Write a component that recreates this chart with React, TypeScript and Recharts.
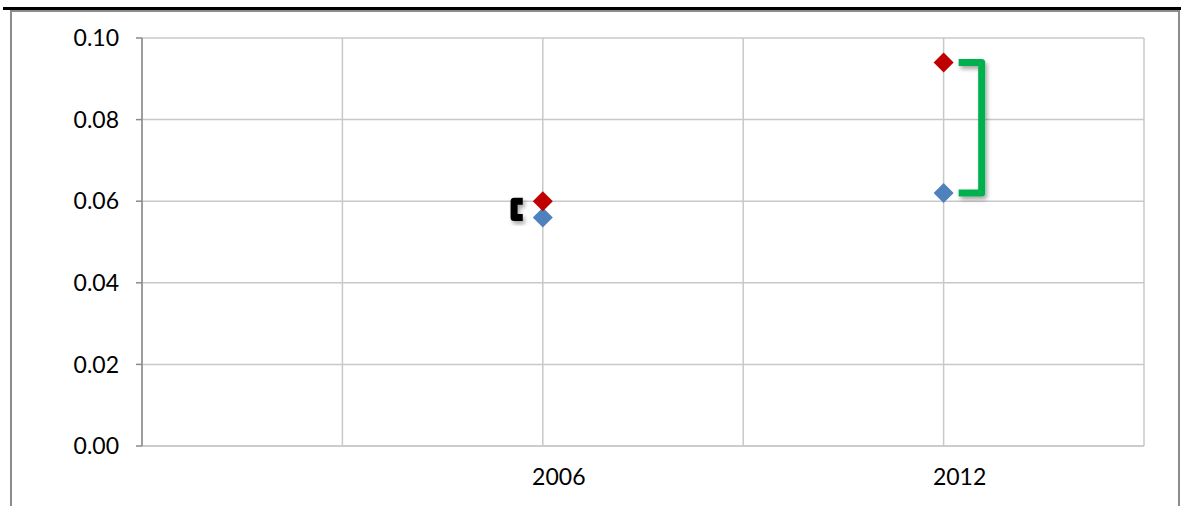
import React from "react";
import {
  ScatterChart,
  Scatter,
  XAxis,
  YAxis,
  CartesianGrid,
} from "recharts";

// x grid runs 2000..2015 every 3 years, only two years are labelled
const gridYears = [2000, 2003, 2006, 2009, 2012, 2015];
const labelYears = [2006, 2012];
const yTicks = [0, 0.02, 0.04, 0.06, 0.08, 0.1];

// two series
const redValues = [0.06, 0.094];
const blueValues = [0.056, 0.062];

const redData = labelYears.map((x, i) => ({ x, y: redValues[i] }));
const blueData = labelYears.map((x, i) => ({ x, y: blueValues[i] }));

// brackets span the gap between the two series
const blackBracket = [
  { x: labelYears[0] - 0.3, y: redValues[0] },
  { x: labelYears[0] - 0.43, y: redValues[0] },
  { x: labelYears[0] - 0.43, y: blueValues[0] },
  { x: labelYears[0] - 0.3, y: blueValues[0] },
];
const greenBracket = [
  { x: labelYears[1] + 0.225, y: redValues[1] },
  { x: labelYears[1] + 0.57, y: redValues[1] },
  { x: labelYears[1] + 0.57, y: blueValues[1] },
  { x: labelYears[1] + 0.225, y: blueValues[1] },
];

const FONT = "Lato, 'Open Sans', sans-serif";

const Diamond = (color: string) => (props: any) => {
  const { cx, cy } = props;
  const r = 10;
  return (
    <polygon
      points={`${cx},${cy - r} ${cx + r},${cy} ${cx},${cy + r} ${cx - r},${cy}`}
      fill={color}
    />
  );
};

const NoShape = () => null;

const XTick = (props: any) => {
  const { x, y, payload } = props;
  if (!labelYears.includes(payload.value)) return null;
  return (
    <text
      x={x + 16}
      y={y + 22}
      textAnchor="middle"
      dominantBaseline="central"
      fill="#000"
      fontSize={23}
      fontFamily={FONT}
    >
      {payload.value}
    </text>
  );
};

export default function App() {
  return (
    <div
      style={{
        position: "absolute",
        left: 0,
        top: 0,
        width: 1181,
        height: 506,
        background: "#fff",
        overflow: "hidden",
      }}
    >
      <div
        style={{
          position: "absolute",
          left: 3,
          top: 7,
          width: 1178,
          height: 3,
          background: "#000",
        }}
      />
      <div
        style={{
          position: "absolute",
          left: 10,
          top: 10,
          width: 1166,
          height: 510,
          border: "2px solid #8c8c8c",
          borderBottom: "none",
        }}
      />
      <div style={{ position: "absolute", left: 0, top: 0 }}>
        <ScatterChart
          width={1181}
          height={506}
          margin={{ top: 38, right: 37, bottom: 30, left: 0 }}
        >
          <defs>
            <filter id="shadow" x="-50%" y="-50%" width="200%" height="200%">
              <feDropShadow dx="2" dy="3" stdDeviation="2" floodOpacity="0.35" />
            </filter>
          </defs>
          <CartesianGrid stroke="#c8c8c8" strokeWidth={1.5} />
          <XAxis
            type="number"
            dataKey="x"
            domain={[2000, 2015]}
            ticks={gridYears}
            height={30}
            tickLine={false}
            axisLine={{ stroke: "#c8c8c8", strokeWidth: 1.5 }}
            tick={<XTick />}
            interval={0}
          />
          <YAxis
            type="number"
            dataKey="y"
            domain={[0, 0.1]}
            ticks={yTicks}
            width={142}
            tickSize={6}
            tickMargin={17}
            tickFormatter={(v: number) => v.toFixed(2)}
            axisLine={{ stroke: "#8a8a8a", strokeWidth: 1.5 }}
            tickLine={{ stroke: "#8a8a8a", strokeWidth: 1.5 }}
            tick={{ fill: "#000", fontSize: 23, fontFamily: FONT }}
            interval={0}
          />
          <Scatter
            data={blackBracket}
            line={{ stroke: "#000", strokeWidth: 7, strokeLinejoin: "round", filter: "url(#shadow)" }}
            lineType="joint"
            shape={NoShape}
            isAnimationActive={false}
          />
          <Scatter
            data={greenBracket}
            line={{ stroke: "#00b050", strokeWidth: 7, strokeLinejoin: "round", filter: "url(#shadow)" }}
            lineType="joint"
            shape={NoShape}
            isAnimationActive={false}
          />
          <Scatter data={blueData} shape={Diamond("#4f81bd")} isAnimationActive={false} />
          <Scatter data={redData} shape={Diamond("#c00000")} isAnimationActive={false} />
        </ScatterChart>
      </div>
    </div>
  );
}
